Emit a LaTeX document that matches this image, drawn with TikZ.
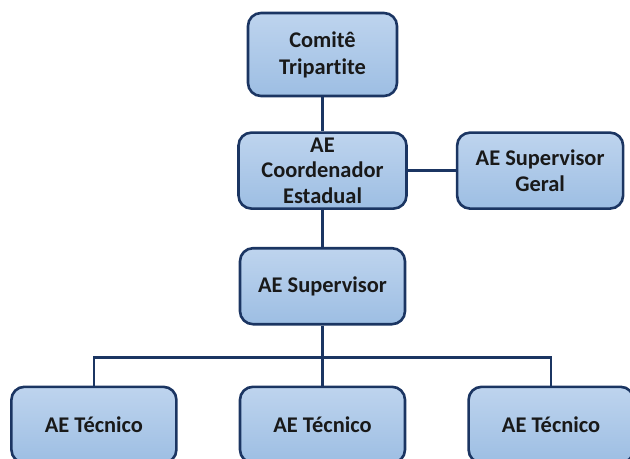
\documentclass[tikz,border=0pt]{standalone}
\usepackage{fontspec}
\setmainfont[Ligatures=NoCommon]{Carlito}
\usetikzlibrary{positioning}
\definecolor{navy}{HTML}{1B3562}
\definecolor{boxtop}{HTML}{BED4EE}
\definecolor{boxbot}{HTML}{9DBEE3}

\tikzset{
  orgbox/.style={draw=navy, line width=2.6bp, rounded corners=13bp,
    top color=boxtop, bottom color=boxbot, inner sep=0pt,
    minimum width=165bp, minimum height=76bp, align=center,
    text=black!90, font=\fontsize{22.5}{25.5}\selectfont\bfseries},
  link/.style={draw=navy, line width=2.4bp}
}

\begin{document}
\begin{tikzpicture}[node distance=34bp and 48bp]

  \useasboundingbox (0,0) rectangle (630bp,-459bp);

  \node[orgbox] (comite) [minimum width=149bp, minimum height=83bp, font=\fontsize{22.5}{27}\selectfont\bfseries] at (322.5bp,-54.5bp) {Comitê\\Tripartite};
  \node[orgbox] (coord) [minimum width=168bp, below=of comite] {AE\\Coordenador\\Estadual};
  \node[orgbox] (geral) [minimum width=166bp, right=of coord] {AE Supervisor\\Geral};
  \node[orgbox] (superv) [below=37bp of coord] {AE Supervisor};
  \node[orgbox] (tec2) [below=60bp of superv] {AE Técnico};
  \node[orgbox] (tec1) [left=61bp of tec2] {AE Técnico};
  \node[orgbox] (tec3) [right=61bp of tec2] {AE Técnico};

  \coordinate (bus) at ([yshift=-32bp]superv.south);

  \path[link]
    (comite) edge (coord)
    (coord) edge (geral)
    (coord) edge (superv)
    (superv) edge (tec2);
  \draw[link] (tec1.north) |- (bus) -| (tec3.north);

\end{tikzpicture}
\end{document}
